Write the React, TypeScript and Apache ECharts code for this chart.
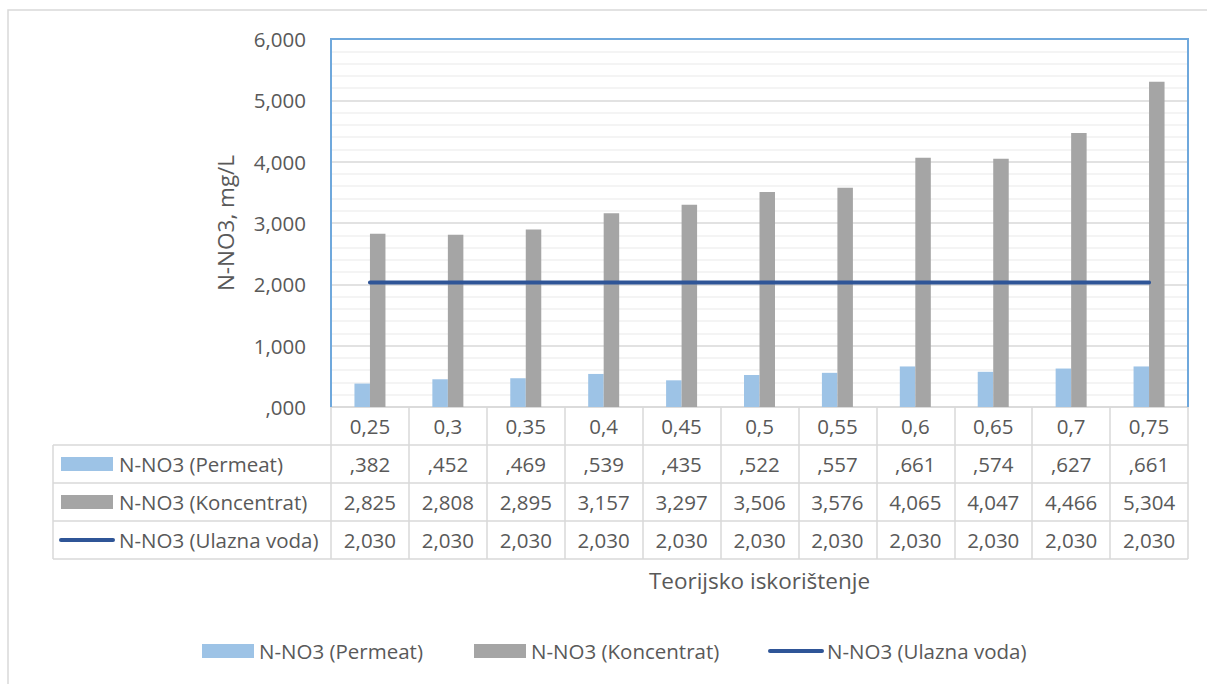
import React, { useEffect, useRef } from 'react';
import * as echarts from 'echarts';

const categories = ['0,25', '0,3', '0,35', '0,4', '0,45', '0,5', '0,55', '0,6', '0,65', '0,7', '0,75'];
const permeat = [0.382, 0.452, 0.469, 0.539, 0.435, 0.522, 0.557, 0.661, 0.574, 0.627, 0.661];
const koncentrat = [2.825, 2.808, 2.895, 3.157, 3.297, 3.506, 3.576, 4.065, 4.047, 4.466, 5.304];
const ulazna = [2.03, 2.03, 2.03, 2.03, 2.03, 2.03, 2.03, 2.03, 2.03, 2.03, 2.03];
const seriesNames = ['N-NO3 (Permeat)', 'N-NO3 (Koncentrat)', 'N-NO3 (Ulazna voda)'];
const yAxisTitle = 'N-NO3, mg/L';
const xAxisTitle = 'Teorijsko iskorištenje';
const yMin = 0;
const yMax = 6;
const yInterval = 1;

const COLORS = ['#9DC3E6', '#A5A5A5', '#2F5597'];
const TEXT = '#595959';
const GRID_LINE = '#D9D9D9';
const PLOT_BORDER = '#6FA8DC';
const FONT = 'Open Sans';
const FS = 20.5;
const TITLE_FS = 22.5;

const fmt = (v: number) => v.toFixed(3).replace('.', ',').replace(/^0(?=,)/, '');

const GRID = { left: 331, right: 19, top: 39, bottom: 277 };
const ROW_H = 38;
const TABLE_LEFT = 53;
const LEGEND_Y = 651;
const LEGEND_KEY_X = [202, 474, 770];

export default function App() {
  const ref = useRef<HTMLDivElement>(null);
  useEffect(() => {
    if (!ref.current) return;
    const chart = echarts.init(ref.current, undefined, { renderer: 'svg' });
    const seriesData = [permeat, koncentrat, ulazna];
    chart.setOption({
      animation: false,
      textStyle: { fontFamily: FONT },
      grid: { ...GRID, show: false },
      xAxis: {
        type: 'category',
        data: categories,
        name: xAxisTitle,
        nameLocation: 'middle',
        nameGap: 162,
        nameTextStyle: { fontSize: TITLE_FS, color: TEXT, fontFamily: FONT },
        axisLine: { show: true, lineStyle: { color: GRID_LINE, width: 1.5 } },
        axisTick: { show: true, length: ROW_H * 4, lineStyle: { color: GRID_LINE, width: 1.5 } },
        axisLabel: { margin: 8, lineHeight: 22, fontSize: FS, color: TEXT, fontFamily: FONT },
      },
      yAxis: {
        type: 'value',
        min: yMin,
        max: yMax,
        interval: yInterval,
        name: yAxisTitle,
        nameLocation: 'middle',
        nameGap: 94,
        nameRotate: 90,
        nameTextStyle: { fontSize: TITLE_FS, color: TEXT, fontFamily: FONT },
        axisLine: { show: false },
        axisTick: { show: false },
        axisLabel: { margin: 25, fontSize: FS, color: TEXT, fontFamily: FONT, formatter: (v: number) => fmt(v) },
        splitLine: { show: true, lineStyle: { color: GRID_LINE, width: 1.5 } },
        minorTick: { show: false, splitNumber: 5 },
        minorSplitLine: { show: true, lineStyle: { color: '#F0F0F0', width: 1.5 } },
      },
      series: [
        {
          name: seriesNames[0],
          type: 'bar',
          data: seriesData[0],
          barWidth: 15.5,
          barGap: '0%',
          itemStyle: { color: COLORS[0] },
          z: 2,
        },
        {
          name: seriesNames[1],
          type: 'bar',
          data: seriesData[1],
          barWidth: 15.5,
          barGap: '0%',
          itemStyle: { color: COLORS[1] },
          z: 2,
        },
        {
          name: seriesNames[2],
          type: 'line',
          data: seriesData[2],
          symbol: 'none',
          lineStyle: { color: COLORS[2], width: 4, cap: 'round' },
          itemStyle: { color: COLORS[2] },
          z: 5,
        },
      ],
    });

    const axisY = chart.convertToPixel({ yAxisIndex: 0 }, yMin) as number;
    const topY = chart.convertToPixel({ yAxisIndex: 0 }, yMax) as number;
    const xLeft = GRID.left;
    const xRight = 1207 - GRID.right;
    const g: any[] = [];
    // outer chart border
    g.push({
      type: 'rect',
      shape: { x: 8, y: 10, width: 1400, height: 900 },
      style: { fill: 'none', stroke: GRID_LINE, lineWidth: 1.5 },
      silent: true,
      z: -10,
    });
    // plot-area outline (left, top, right)
    g.push({
      type: 'polyline',
      shape: { points: [[xLeft, axisY], [xLeft, topY], [xRight, topY], [xRight, axisY]] },
      style: { stroke: PLOT_BORDER, lineWidth: 2, fill: 'none' },
      silent: true,
      z: 1,
    });
    // data table grid
    for (let r = 1; r <= 4; r++) {
      const y = axisY + r * ROW_H;
      g.push({
        type: 'line',
        shape: { x1: TABLE_LEFT, y1: y, x2: xRight, y2: y },
        style: { stroke: GRID_LINE, lineWidth: 1.5 },
        silent: true,
      });
    }
    g.push({
      type: 'line',
      shape: { x1: TABLE_LEFT, y1: axisY + ROW_H, x2: TABLE_LEFT, y2: axisY + ROW_H * 4 },
      style: { stroke: GRID_LINE, lineWidth: 1.5 },
      silent: true,
    });
    const key = (si: number, x: number, cy: number) => {
      if (si < 2) {
        return {
          type: 'rect',
          shape: { x, y: cy - 7, width: 52, height: 14 },
          style: { fill: COLORS[si] },
          silent: true,
        };
      }
      return {
        type: 'line',
        shape: { x1: x, y1: cy, x2: x + 52, y2: cy },
        style: { stroke: COLORS[si], lineWidth: 4, lineCap: 'round' },
        silent: true,
      };
    };
    seriesData.forEach((vals, si) => {
      const cy = axisY + ROW_H * (si + 1) + ROW_H / 2;
      g.push(key(si, 61, cy));
      g.push({
        type: 'text',
        x: 119,
        y: cy,
        style: { text: seriesNames[si], fill: TEXT, fontSize: FS, fontFamily: FONT, align: 'left', verticalAlign: 'middle' },
        silent: true,
      });
      vals.forEach((v, ci) => {
        const cx = chart.convertToPixel({ xAxisIndex: 0 }, ci) as number;
        g.push({
          type: 'text',
          x: cx,
          y: cy,
          style: { text: fmt(v), fill: TEXT, fontSize: FS, fontFamily: FONT, align: 'center', verticalAlign: 'middle' },
          silent: true,
        });
      });
      // bottom legend entry
      const lx = LEGEND_KEY_X[si];
      g.push(key(si, lx, LEGEND_Y));
      g.push({
        type: 'text',
        x: lx + 57,
        y: LEGEND_Y,
        style: { text: seriesNames[si], fill: TEXT, fontSize: FS, fontFamily: FONT, align: 'left', verticalAlign: 'middle' },
        silent: true,
      });
    });
    chart.setOption({ graphic: g });
    return () => chart.dispose();
  }, []);
  return (
    <div
      ref={ref}
      style={{ position: 'fixed', left: 0, top: 0, width: 1207, height: 684, background: '#fff' }}
    />
  );
}
